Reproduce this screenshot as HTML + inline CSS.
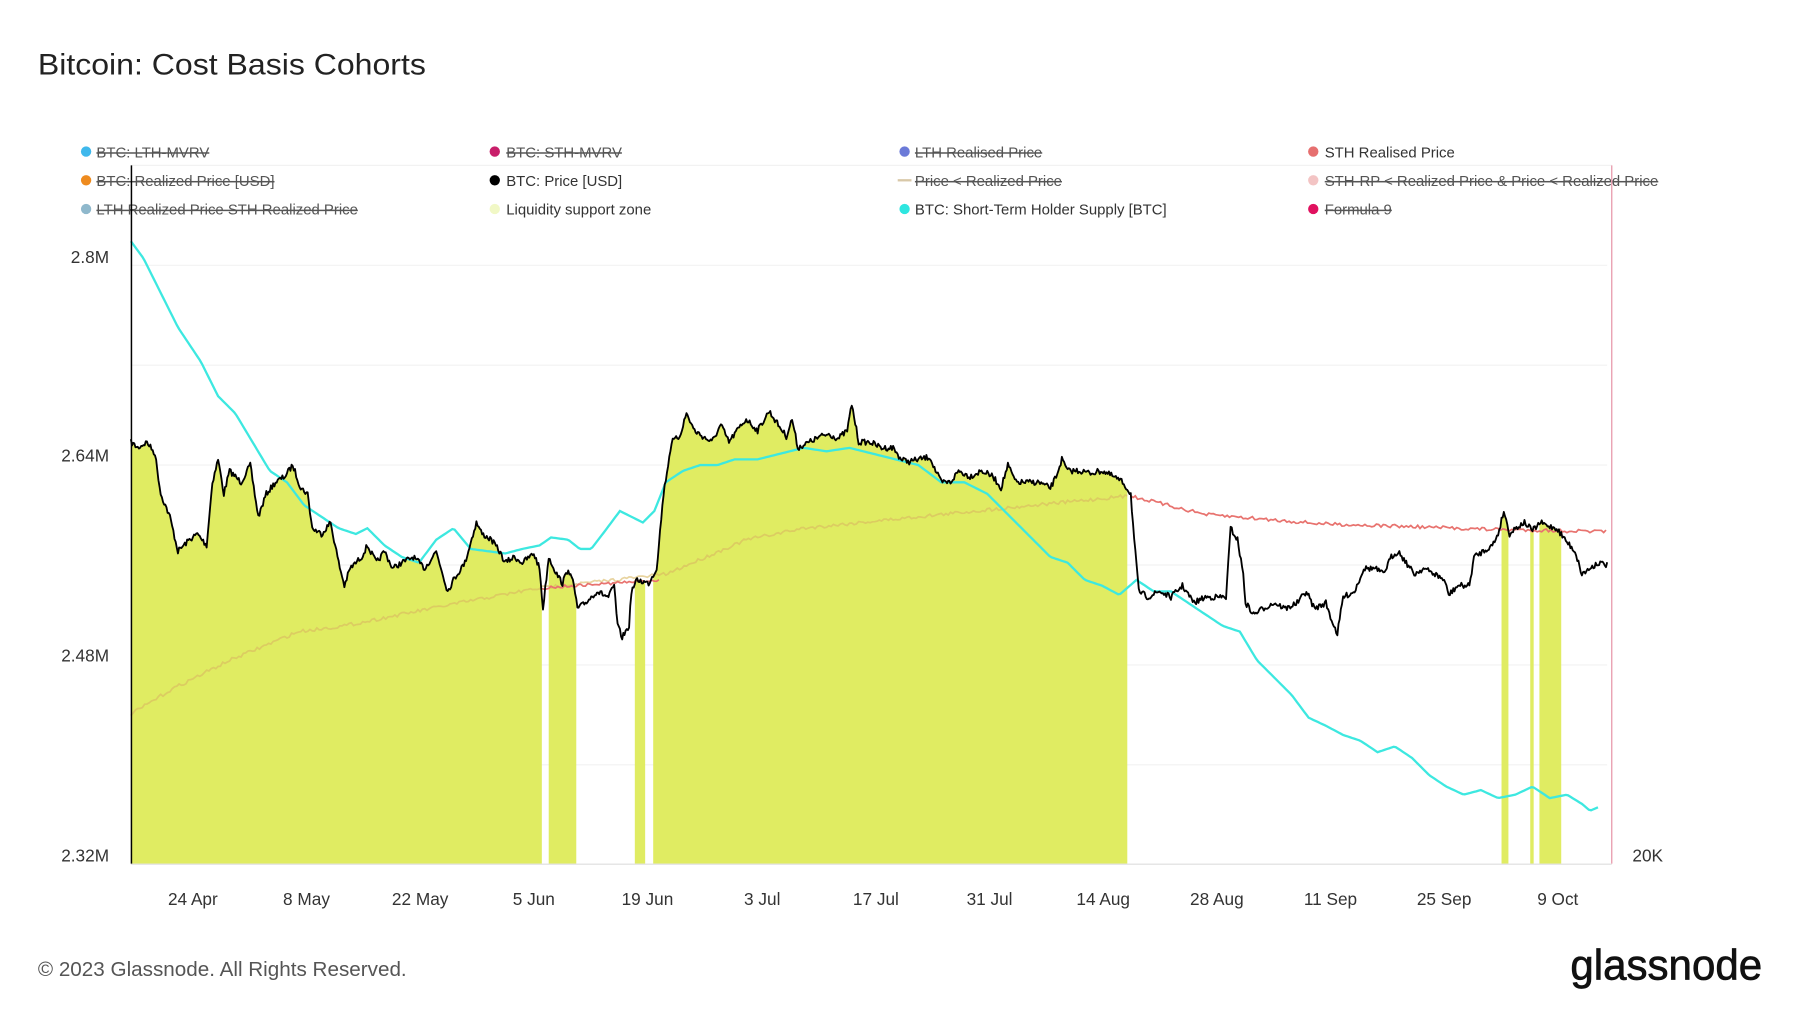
<!DOCTYPE html>
<html><head><meta charset="utf-8"><style>
html,body{margin:0;padding:0;background:#fff;}
svg{display:block;font-family:"Liberation Sans",sans-serif;}
</style></head><body>
<svg id="s" width="1800" height="1014" viewBox="0 0 1568 883" preserveAspectRatio="none" xmlns="http://www.w3.org/2000/svg">
<rect width="1568" height="883" fill="#fff"/>
<text x="33" y="65" font-size="26" fill="#222" textLength="338" lengthAdjust="spacingAndGlyphs">Bitcoin: Cost Basis Cohorts</text>
<g font-size="13" fill="#555">
<circle cx="75" cy="132" r="4.5" fill="#3fb8ec"/><text x="84" y="137" text-decoration="line-through">BTC: LTH-MVRV</text>
<circle cx="431" cy="132" r="4.5" fill="#c81e6a"/><text x="441" y="137" text-decoration="line-through">BTC: STH-MVRV</text>
<circle cx="788" cy="132" r="4.5" fill="#6b7ad8"/><text x="797" y="137" text-decoration="line-through">LTH Realised Price</text>
<circle cx="1144" cy="132" r="4.5" fill="#e66f6f"/><text x="1154" y="137" fill="#333">STH Realised Price</text>
<circle cx="75" cy="157" r="4.5" fill="#ee8b1f"/><text x="84" y="162" text-decoration="line-through">BTC: Realized Price [USD]</text>
<circle cx="431" cy="157" r="4.5" fill="#000"/><text x="441" y="162" fill="#333">BTC: Price [USD]</text>
<line x1="782" y1="157" x2="794" y2="157" stroke="#d8c8a8" stroke-width="2"/><text x="797" y="162" text-decoration="line-through">Price &lt; Realized Price</text>
<circle cx="1144" cy="157" r="4.5" fill="#f3c4c4"/><text x="1154" y="162" text-decoration="line-through">STH-RP &lt; Realized Price &amp; Price &lt; Realized Price</text>
<circle cx="75" cy="182" r="4.5" fill="#8fb8cc"/><text x="84" y="187" text-decoration="line-through">LTH Realized Price STH Realized Price</text>
<circle cx="431" cy="182" r="4.5" fill="#f1f8c6"/><text x="441" y="187" fill="#333">Liquidity support zone</text>
<circle cx="788" cy="182" r="4.5" fill="#2ee6e0"/><text x="797" y="187" fill="#333">BTC: Short-Term Holder Supply [BTC]</text>
<circle cx="1144" cy="182" r="4.5" fill="#e0115f"/><text x="1154" y="187" text-decoration="line-through">Formula 9</text>
</g>
<g stroke="#f2f2f2" stroke-width="1">
<line x1="114" y1="144" x2="1404" y2="144"/>
<line x1="114" y1="231" x2="1400" y2="231"/><line x1="114" y1="318" x2="1400" y2="318"/>
<line x1="114" y1="405" x2="1400" y2="405"/><line x1="114" y1="492" x2="1400" y2="492"/>
<line x1="114" y1="579" x2="1400" y2="579"/><line x1="114" y1="666" x2="1400" y2="666"/>
</g>
<g id="plot"></g>
<line x1="114" y1="752.5" x2="1404" y2="752.5" stroke="#ddd"/>
<line x1="114.5" y1="144" x2="114.5" y2="752" stroke="#000" stroke-width="1.3"/>
<line x1="1404" y1="144" x2="1404" y2="752" stroke="#e9a0b0" stroke-width="1.2"/>
<g font-size="15" fill="#333" text-anchor="end">
<text x="95" y="229">2.8M</text><text x="95" y="402">2.64M</text><text x="95" y="576">2.48M</text><text x="95" y="750">2.32M</text>
</g>
<text x="1422" y="750" font-size="15" fill="#333">20K</text>
<g font-size="15" fill="#333" text-anchor="middle">
<text x="168" y="788">24 Apr</text><text x="267" y="788">8 May</text><text x="366" y="788">22 May</text><text x="465" y="788">5 Jun</text><text x="564" y="788">19 Jun</text><text x="664" y="788">3 Jul</text><text x="763" y="788">17 Jul</text><text x="862" y="788">31 Jul</text><text x="961" y="788">14 Aug</text><text x="1060" y="788">28 Aug</text><text x="1159" y="788">11 Sep</text><text x="1258" y="788">25 Sep</text><text x="1357" y="788">9 Oct</text>
</g>
<text x="33" y="850" font-size="18" fill="#555">© 2023 Glassnode. All Rights Reserved.</text>
<text x="1368" y="853" font-size="37" fill="#111" textLength="167" lengthAdjust="spacingAndGlyphs" stroke="#111" stroke-width="0.6">glassnode</text>
</svg>
<script>
var P=[[114,385],[120,390],[128,385],[135,395],[140,430],[148,450],[155,480],[165,470],[172,465],[180,475],[185,420],[190,400],[195,430],[200,410],[210,420],[218,405],[225,450],[232,430],[240,420],[248,415],[255,405],[262,425],[268,430],[272,460],[280,465],[288,455],[295,490],[300,510],[305,495],[315,485],[320,475],[328,490],[335,480],[342,495],[350,490],[360,485],[370,495],[380,480],[390,515],[395,505],[405,490],[415,455],[420,465],[428,470],[435,480],[440,490],[448,485],[455,490],[465,482],[470,495],[473,530],[478,485],[485,500],[490,508],[495,495],[500,510],[503,530],[510,525],[520,515],[530,520],[535,510],[538,545],[542,555],[548,545],[550,515],[555,505],[565,508],[572,495],[578,430],[585,385],[592,380],[598,360],[605,375],[612,380],[620,385],[628,370],[635,385],[642,375],[650,365],[660,375],[670,358],[678,370],[685,380],[690,365],[695,390],[705,385],[715,380],[722,378],[730,382],[738,375],[742,352],[748,385],[758,385],[768,390],[778,390],[785,400],[792,402],[800,400],[810,398],[815,410],[820,420],[828,420],[835,410],[845,415],[855,410],[865,415],[872,425],[878,405],[885,420],[895,420],[905,420],[915,425],[920,415],[925,400],[930,410],[940,410],[950,412],[960,410],[970,415],[978,420],[985,430],[988,470],[992,515],[1000,520],[1010,515],[1020,520],[1030,510],[1040,525],[1050,520],[1060,520],[1068,520],[1072,460],[1078,470],[1083,500],[1085,525],[1092,535],[1100,530],[1110,525],[1120,530],[1130,525],[1138,515],[1145,530],[1155,525],[1160,540],[1165,552],[1170,520],[1180,515],[1188,495],[1198,495],[1205,500],[1212,485],[1218,480],[1225,490],[1232,500],[1240,495],[1250,500],[1258,505],[1262,518],[1270,510],[1280,510],[1284,485],[1292,480],[1300,475],[1305,465],[1310,445],[1315,465],[1320,460],[1328,455],[1335,462],[1342,455],[1348,458],[1356,460],[1365,472],[1372,480],[1378,500],[1385,495],[1392,490],[1400,492]];
var C=[[114,210],[125,225],[140,255],[155,285],[175,315],[190,345],[205,360],[220,385],[235,410],[250,420],[265,440],[280,450],[295,460],[310,465],[320,460],[335,475],[350,485],[365,490],[380,470],[395,460],[410,478],[425,480],[440,482],[455,478],[470,475],[480,468],[495,470],[505,478],[515,478],[525,465],[540,445],[550,450],[560,455],[570,445],[580,420],[595,410],[610,405],[625,405],[640,400],[660,400],[680,395],[700,390],[720,393],[740,390],[760,395],[780,400],[800,405],[820,420],[840,420],[860,430],[880,450],[900,470],[915,485],[930,490],[945,505],[960,510],[975,518],[990,505],[1005,515],[1020,515],[1035,525],[1050,535],[1065,545],[1080,550],[1095,575],[1110,590],[1125,605],[1140,625],[1155,632],[1170,640],[1185,645],[1200,655],[1215,650],[1230,660],[1245,675],[1260,685],[1275,692],[1290,688],[1305,695],[1320,692],[1335,685],[1350,695],[1365,692],[1378,700],[1385,706],[1392,703]];
var T=[[114,622],[150,600],[200,575],[260,550],[300,545],[400,525],[470,512],[580,500],[650,470],[700,460],[800,450],[900,440],[982,432]];
var seed=7;function rnd(){seed=(seed*16807)%2147483647;return seed/2147483647-0.5;}
function interp(A,x){for(var i=0;i<A.length-1;i++){if(x<=A[i+1][0]){var t=(x-A[i][0])/(A[i+1][0]-A[i][0]);return A[i][1]+t*(A[i+1][1]-A[i][1]);}}return A[A.length-1][1];}
var price=[];for(var x=114;x<=1400;x+=1){price.push([x,interp(P,x)+rnd()*5]);}
function path(arr){return arr.map(function(p,i){return (i?'L':'M')+p[0].toFixed(1)+' '+p[1].toFixed(1);}).join('');}
var g=document.getElementById('plot'),h='';
var zones=[[114,472],[478,502],[553,562],[569,982],[1308,1314],[1333,1336],[1341,1360]];
zones.forEach(function(z){var pts=price.filter(function(p){return p[0]>=z[0]&&p[0]<=z[1];});h+='<path d="'+path(pts)+'L'+z[1]+' 752L'+z[0]+' 752Z" fill="#e0ec62"/>';});
var tan=[];for(var x=114;x<=982;x+=2)tan.push([x,interp(T,x)+rnd()*3]);
h+='<path d="'+path(tan)+'" fill="none" stroke="#d8b860" stroke-opacity="0.6" stroke-width="1.5"/>';
var r1=[];for(var x=472;x<=575;x+=2)r1.push([x,interp([[472,512],[575,505]],x)+rnd()*2.5]);
var r2=[];for(var x=985;x<=1400;x+=2)r2.push([x,interp([[985,432],[1050,448],[1150,456],[1300,461],[1400,463]],x)+rnd()*3]);
h+='<path d="'+path(r1)+'" fill="none" stroke="#e8736f" stroke-width="1.5"/><path d="'+path(r2)+'" fill="none" stroke="#e8736f" stroke-width="1.5"/>';
var cy=[];for(var x=114;x<=1392;x+=2)cy.push([x,interp(C,x)]);
h+='<path d="'+path(cy)+'" fill="none" stroke="#3de8e0" stroke-width="2"/>';
h+='<path d="'+path(price)+'" fill="none" stroke="#000" stroke-width="1.6" stroke-linejoin="round"/>';
g.innerHTML=h;
</script>
</body></html>
